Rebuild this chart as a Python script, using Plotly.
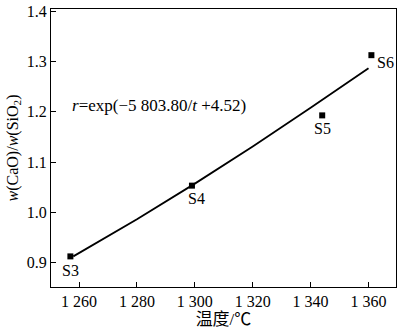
import plotly.graph_objects as go

# measured samples
temps = [1257, 1299, 1344, 1361]
ratios = [0.912, 1.053, 1.193, 1.313]
labels = ["S3", "S4", "S5", "S6"]

# fitted curve
fit_t = [1258, 1280, 1300, 1320, 1340, 1360]
fit_r = [0.912, 0.986, 1.057, 1.131, 1.208, 1.287]

xtick_vals = [1260, 1280, 1300, 1320, 1340, 1360]
xtick_text = ["1 260", "1 280", "1 300", "1 320", "1 340", "1 360"]
ytick_vals = [0.9, 1.0, 1.1, 1.2, 1.3, 1.4]
ytick_text = ["0.9", "1.0", "1.1", "1.2", "1.3", "1.4"]

FONT = "Liberation Serif, Noto Sans CJK SC, serif"
# pixel offsets of sample labels relative to their markers (styling)
label_shift = {"S3": (0, -14), "S4": (5, -13), "S5": (0, -13), "S6": (14, -7)}

fig = go.Figure()
fig.add_trace(go.Scatter(x=fit_t, y=fit_r, mode="lines",
                         line=dict(color="black", width=1.8), hoverinfo="skip"))
fig.add_trace(go.Scatter(x=temps, y=ratios, mode="markers",
                         marker=dict(symbol="square", size=6, color="black")))

for t, r, lab in zip(temps, ratios, labels):
    dx, dy = label_shift[lab]
    fig.add_annotation(x=t, y=r, text=lab, showarrow=False, xshift=dx, yshift=dy,
                       xanchor="center", yanchor="middle",
                       font=dict(family=FONT, size=16, color="black"))

fig.add_annotation(x=1257, y=1.212, xanchor="left", yanchor="middle",
                   text="<i>r</i>=exp(\u22125 803.80/<i>t</i> +4.52)",
                   showarrow=False, font=dict(family=FONT, size=17, color="black"))

axis_common = dict(showgrid=False, zeroline=False, showline=True, linecolor="black",
                   linewidth=1.3, mirror=True, ticks="inside", ticklen=5,
                   tickcolor="black", tickwidth=1, ticklabeloverflow="allow",
                   tickfont=dict(family=FONT, size=16, color="black"))

fig.update_xaxes(range=[1250.3, 1369.5], tickvals=xtick_vals, ticktext=xtick_text,
                 title=dict(text="温度/℃", font=dict(family=FONT, size=17, color="black"),
                            standoff=0), **axis_common)
fig.update_yaxes(range=[0.851, 1.405], tickvals=ytick_vals, ticktext=ytick_text,
                 title=dict(text="<i>w</i>(CaO)/<i>w</i>(SiO<sub>2</sub>)",
                            font=dict(family=FONT, size=16, color="black"), standoff=4),
                 **axis_common)

fig.update_layout(width=400, height=331, showlegend=False,
                  margin=dict(l=51, r=3, t=5, b=44),
                  plot_bgcolor="white", paper_bgcolor="white")

fig.write_html("out.html", config={"displayModeBar": False},
               post_script="document.body.style.margin='0';")
